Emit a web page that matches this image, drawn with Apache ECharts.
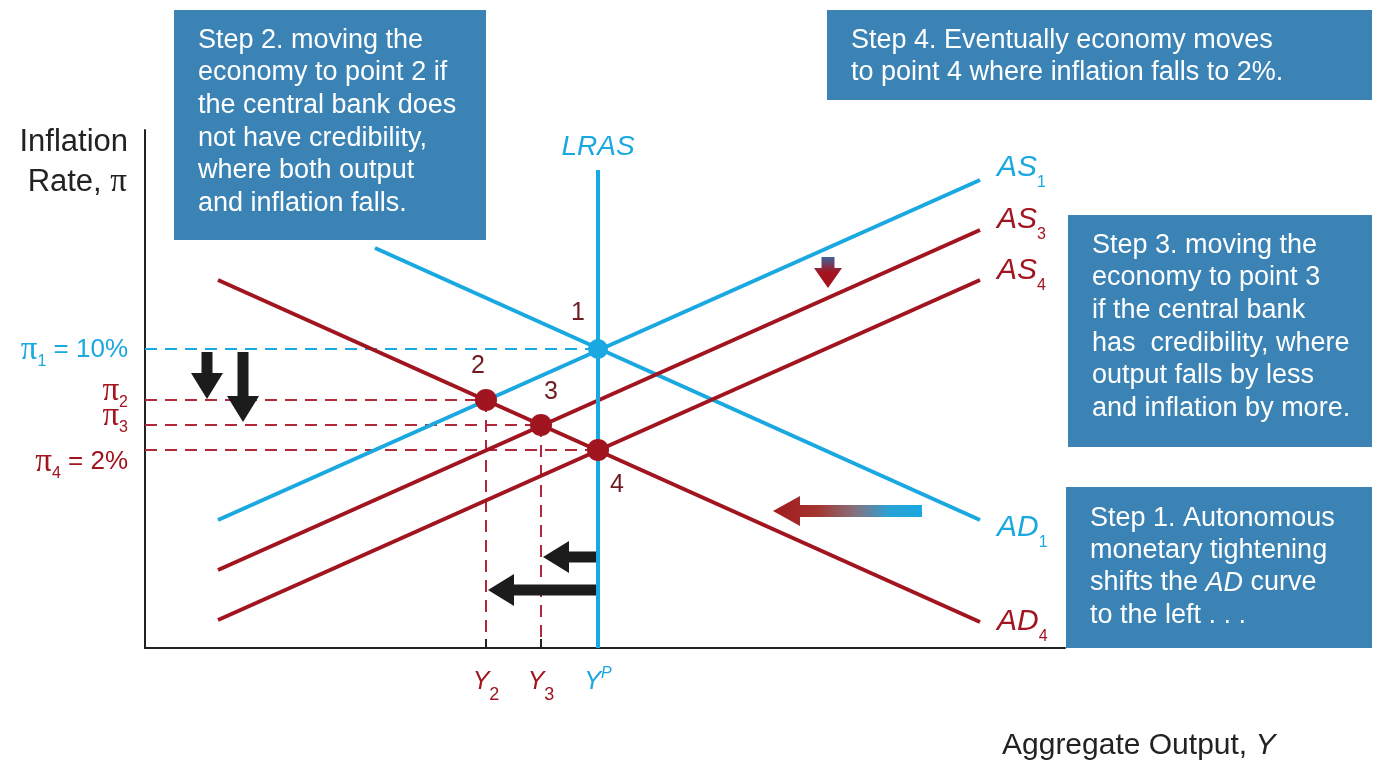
<!DOCTYPE html>
<html>
<head>
<meta charset="utf-8">
<title>Disinflation with and without credibility</title>
<script src="https://cdn.jsdelivr.net/npm/echarts@6/dist/echarts.min.js"></script>
<style>
  html, body { margin: 0; padding: 0; background: #ffffff; }
  #chart { width: 1377px; height: 768px; }
</style>
</head>
<body>
<div id="chart"></div>
<script>
// Diagram units: output on x (0..920), inflation on y (0..518), origin at the axes corner.
const lras = [[453, 0], [453, 478]];
const as1 = [[73, 128], [835, 468]];
const as3 = [[73, 78], [835, 418]];
const as4 = [[73, 28], [835, 368]];
const ad1 = [[230, 400], [835, 128]];
const ad4 = [[73, 368], [835, 26]];

// Equilibria 1..4 and where their numbers sit
const eqPoints = [[453, 299], [341, 248], [396, 223], [453, 198]];
const eqNumbers = ['1', '2', '3', '4'];
const eqNumberAt = [[433, 335], [333, 282], [406, 256], [472, 163]];

// Inflation levels (π1..π4) and output levels (Y2, Y3, Yp)
const piLevels = [299, 248, 223, 198];
const piLabels = ['{b|π}{bs|1}{bt| = 10%}', '{r|π}{rs|2}', '{r|π}{rs|3}', '{r|π}{rs|4}{rt| = 2%}'];
const piLabelAt = [[-17, 298], [-17, 257], [-17, 232], [-17, 186]];
const yLabels = ['{r|Y}{rs|2}', '{r|Y}{rs|3}', '{b|Y}{bp|P}'];
const yLabelAt = [[341, -34], [396, -34], [453, -34]];

// Curve names and label anchors
const curveLabels = ['{b|AS}{bs|1}', '{r|AS}{rs|3}', '{r|AS}{rs|4}', '{b|AD}{bs|1}', '{r|AD}{rs|4}'];
const curveLabelAt = [[852, 480], [852, 428], [852, 377], [852, 120], [852, 26]];
const lrasLabelAt = [453, 501];

// Shift arrows: [x0, y0, x1, y1] from tail to tip
const shiftArrows = [[62, 296, 62, 249], [98, 296, 98, 226], [451, 91, 398, 91], [451, 58, 343, 58]];
const adShiftArrow = [[777, 137, 628, 137]];
const asShiftArrow = [[683, 391, 683, 360]];

const BLUE = '#19a8e0';
const RED = '#a0151f';
const DASH_RED = '#b0283a';
const BOX = '#3b83b5';
const FONT = '"Liberation Sans", Arial, sans-serif';
const SERIF = '"Liberation Serif", "DejaVu Serif", serif';

const chart = echarts.init(document.getElementById('chart'));

function seg(a, b) { return [a, b]; }

function lineSeries(data, color, width, type, z) {
  return {
    type: 'line', data: data, showSymbol: false, symbol: 'none', silent: true,
    lineStyle: { color: color, width: width, type: type || 'solid', cap: 'butt' },
    z: z || 3, animation: false
  };
}

const dashStyle = [12, 8];
const series = [];

// dashed guides to the axes
piLevels.forEach(function (lv, i) {
  const pt = eqPoints[i];
  series.push(lineSeries(seg([0, lv], [pt[0], lv]), i === 0 ? BLUE : DASH_RED, 2, dashStyle, 2));
});
[1, 2].forEach(function (i) {
  const pt = eqPoints[i];
  series.push(lineSeries(seg([pt[0], pt[1]], [pt[0], 0]), DASH_RED, 2, dashStyle, 2));
  series.push(lineSeries(seg([pt[0], 9], [pt[0], 0]), '#222222', 2, 'solid', 2));
});

// curves
series.push(lineSeries(as1, BLUE, 4));
series.push(lineSeries(ad1, BLUE, 4));
series.push(lineSeries(as3, RED, 4));
series.push(lineSeries(as4, RED, 4));
series.push(lineSeries(ad4, RED, 4));
series.push(lineSeries(lras, BLUE, 4, 'solid', 4));

// equilibrium points
series.push({
  type: 'scatter', silent: true, animation: false, z: 6,
  data: eqPoints.map(function (p, i) {
    return { value: p, symbolSize: i === 0 ? 20 : 22, itemStyle: { color: i === 0 ? BLUE : RED, opacity: 1 } };
  })
});

function arrowPoints(p0, p1, shaft, headW, headL) {
  const dx = p1[0] - p0[0], dy = p1[1] - p0[1];
  const len = Math.hypot(dx, dy);
  const ux = dx / len, uy = dy / len, nx = -uy, ny = ux;
  const bx = p1[0] - ux * headL, by = p1[1] - uy * headL;
  const s = shaft / 2, h = headW / 2;
  return [
    [p0[0] + nx * s, p0[1] + ny * s],
    [bx + nx * s, by + ny * s],
    [bx + nx * h, by + ny * h],
    [p1[0], p1[1]],
    [bx - nx * h, by - ny * h],
    [bx - nx * s, by - ny * s],
    [p0[0] - nx * s, p0[1] - ny * s]
  ];
}

function arrowSeries(data, shaft, headW, headL, fill) {
  return {
    type: 'custom', silent: true, animation: false, clip: false, z: 5,
    data: data,
    encode: { x: [0, 2], y: [1, 3] },
    renderItem: function (params, api) {
      const p0 = api.coord([api.value(0), api.value(1)]);
      const p1 = api.coord([api.value(2), api.value(3)]);
      return { type: 'polygon', shape: { points: arrowPoints(p0, p1, shaft, headW, headL) }, style: { fill: fill } };
    }
  };
}

series.push(arrowSeries(shiftArrows, 11, 32, 26, '#1c1c1c'));
series.push(arrowSeries(adShiftArrow, 12, 30, 27, new echarts.graphic.LinearGradient(0, 0, 1, 0, [
  { offset: 0, color: '#a11a1e' },
  { offset: 0.3, color: '#a3352f' },
  { offset: 0.55, color: '#86727e' },
  { offset: 0.78, color: '#2aa2d4' },
  { offset: 1, color: '#19a8e0' }
])));
series.push(arrowSeries(asShiftArrow, 13, 28, 20, new echarts.graphic.LinearGradient(0, 0, 0, 1, [
  { offset: 0, color: '#3d6596' },
  { offset: 0.35, color: '#8a2a45' },
  { offset: 0.5, color: '#a3141e' },
  { offset: 1, color: '#a3141e' }
])));

// rich text styles for curve names
const rich = {
  b: { fill: BLUE, fontSize: 30, fontStyle: 'italic', fontFamily: FONT, lineHeight: 46 },
  bs: { fill: BLUE, fontSize: 16, fontFamily: FONT, lineHeight: 16, verticalAlign: 'bottom' },
  r: { fill: RED, fontSize: 30, fontStyle: 'italic', fontFamily: FONT, lineHeight: 46 },
  rs: { fill: RED, fontSize: 16, fontFamily: FONT, lineHeight: 16, verticalAlign: 'bottom' }
};
// inflation level labels
const piRich = {
  b: { fill: BLUE, fontSize: 33, fontFamily: SERIF, lineHeight: 40 },
  bs: { fill: BLUE, fontSize: 16, fontFamily: FONT, lineHeight: 16, verticalAlign: 'bottom' },
  bt: { fill: BLUE, fontSize: 26, fontFamily: FONT, lineHeight: 40 },
  r: { fill: RED, fontSize: 33, fontFamily: SERIF, lineHeight: 40 },
  rs: { fill: RED, fontSize: 16, fontFamily: FONT, lineHeight: 16, verticalAlign: 'bottom' },
  rt: { fill: RED, fontSize: 26, fontFamily: FONT, lineHeight: 40 }
};
// output level labels
const yRich = {
  r: { fill: RED, fontSize: 25, fontStyle: 'italic', fontFamily: FONT, lineHeight: 44 },
  rs: { fill: RED, fontSize: 18, fontFamily: FONT, lineHeight: 18, verticalAlign: 'bottom' },
  b: { fill: BLUE, fontSize: 25, fontStyle: 'italic', fontFamily: FONT, lineHeight: 44 },
  bp: { fill: BLUE, fontSize: 16, fontStyle: 'italic', fontFamily: FONT, lineHeight: 16, verticalAlign: 'top', padding: [6, 0, 0, 0] }
};

function textSeries(anchors, texts, richStyles, align, z) {
  return {
    type: 'custom', silent: true, animation: false, clip: false, z: z || 7,
    data: anchors,
    encode: { x: 0, y: 1 },
    renderItem: function (params, api) {
      const p = api.coord([api.value(0), api.value(1)]);
      return {
        type: 'text', x: p[0], y: p[1],
        style: { text: texts[params.dataIndex], rich: richStyles, align: align, verticalAlign: 'middle' }
      };
    }
  };
}

series.push(textSeries(curveLabelAt, curveLabels, rich, 'left'));
series.push(textSeries([lrasLabelAt], ['{b|LRAS}'], { b: { fill: BLUE, fontSize: 28, fontStyle: 'italic', fontFamily: FONT, lineHeight: 30 } }, 'center'));
series.push(textSeries(piLabelAt, piLabels, piRich, 'right'));
series.push(textSeries(yLabelAt, yLabels, yRich, 'center'));
series.push(textSeries(eqNumberAt, eqNumbers.map(function (n) { return '{n|' + n + '}'; }),
  { n: { fill: '#6e1c22', fontSize: 25, fontFamily: FONT, lineHeight: 28 } }, 'center'));

const BOX_FONT = 27;
function box(x, y, w, h, textTop, textLeft, text, richStyles) {
  const t = { type: 'text', left: textLeft, top: textTop, z: 101, silent: true,
    style: { text: text, fill: '#ffffff', font: BOX_FONT + 'px ' + FONT, lineHeight: 32.6 } };
  if (richStyles) t.style.rich = richStyles;
  return [
    { type: 'rect', shape: { x: x, y: y, width: w, height: h }, style: { fill: BOX }, z: 100, silent: true },
    t
  ];
}

const boxRich = {
  n: { fill: '#ffffff', fontSize: BOX_FONT, fontFamily: FONT, lineHeight: 32.4 },
  i: { fill: '#ffffff', fontSize: BOX_FONT, fontStyle: 'italic', fontFamily: FONT, lineHeight: 32.4 }
};

const graphics = [].concat(
  box(174, 10, 312, 230, 24, 198,
    'Step 2. moving the\neconomy to point 2 if\nthe central bank does\nnot have credibility,\nwhere both output\nand inflation falls.'),
  box(827, 10, 545, 90, 24, 851,
    'Step 4. Eventually economy moves\nto point 4 where inflation falls to 2%.'),
  box(1068, 215, 304, 232, 229, 1092,
    'Step 3. moving the\neconomy to point 3\nif the central bank\nhas  credibility, where\noutput falls by less\nand inflation by more.'),
  box(1066, 487, 306, 161, 502, 1090,
    '{n|Step 1. Autonomous}\n{n|monetary tightening}\n{n|shifts the }{i|AD}{n| curve}\n{n|to the left . . .}', boxRich),
  [
    { type: 'text', right: 1377 - 128, top: 127, silent: true,
      style: { text: 'Inflation', fill: '#222222', font: '31px ' + FONT, align: 'right' } },
    { type: 'text', right: 1377 - 127, top: 166, silent: true,
      style: { text: '{t|Rate, }{p|π}', align: 'right',
        rich: { t: { fill: '#222222', fontSize: 31, fontFamily: FONT, lineHeight: 36 },
                p: { fill: '#222222', fontSize: 33, fontFamily: SERIF, lineHeight: 36 } } } },
    { type: 'text', left: 1002, top: 731, silent: true,
      style: { text: '{t|Aggregate Output, }{i|Y}',
        rich: { t: { fill: '#222222', fontSize: 30, fontFamily: FONT, lineHeight: 34 },
                i: { fill: '#222222', fontSize: 30, fontStyle: 'italic', fontFamily: FONT, lineHeight: 34 } } } }
  ]
);

chart.setOption({
  animation: false,
  backgroundColor: '#ffffff',
  grid: { left: 145, top: 130, width: 920, height: 518, containLabel: false },
  xAxis: {
    type: 'value', min: 0, max: 920,
    axisLine: { show: true, onZero: false, lineStyle: { color: '#222222', width: 2 } },
    axisTick: { show: false }, axisLabel: { show: false }, splitLine: { show: false }
  },
  yAxis: {
    type: 'value', min: 0, max: 518,
    axisLine: { show: true, onZero: false, lineStyle: { color: '#222222', width: 2 } },
    axisTick: { show: false }, axisLabel: { show: false }, splitLine: { show: false }
  },
  series: series,
  graphic: { elements: graphics }
});
</script>
</body>
</html>
